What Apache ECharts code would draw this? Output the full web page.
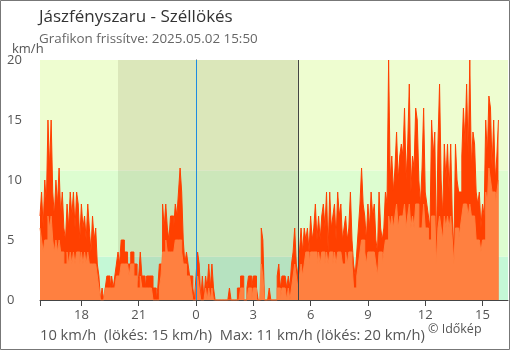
<!DOCTYPE html>
<html><head><meta charset="utf-8">
<script src="https://cdn.jsdelivr.net/npm/echarts@6/dist/echarts.min.js"></script>
<style>html,body{margin:0;padding:0;background:#fff}#c{width:510px;height:350px}</style>
</head><body><div id="c"></div>
<script>
const titleText = 'Jászfényszaru - Széllökés';
const subtitleText = 'Grafikon frissítve: 2025.05.02 15:50';
const footerText = '10 km/h  (lökés: 15 km/h)  Max: 11 km/h (lökés: 20 km/h)';
const creditText = '© Időkép';
const yAxisName = 'km/h';

// time in hours relative to midnight of 2025.05.02
const startHour = -(8 + 10 / 60);   // 15:50 on the previous day
const stepHours = 5 / 60;           // 5-minute readings
const axisMaxHour = 16 + 20 / 60;
const xTickHours = [-6, -3, 0, 3, 6, 9, 12, 15];
const bandLimits = [0, 3.6, 10.8, 20];
const sunsetHour = -(4 + 5 / 60);
const sunriseHour = 5 + 20 / 60;

// gust (lökés) km/h, one value per 5 minutes, 15:50 -> 15:50
const gust = [
  7, 9, 6, 10, 8, 15, 11, 15, 9, 7, 10, 8,
  11, 7, 9, 6, 5, 8, 6, 9, 7, 9, 6, 9,
  8, 5, 8, 6, 7, 5, 8, 6, 4, 7, 5, 6,
  3, 2, 0, 1, 0, 1, 2, 2, 1, 2, 1, 2,
  3, 4, 3, 5, 5, 4, 4, 3, 3, 4, 4, 3,
  3, 1, 2, 4, 2, 2, 1, 2, 2, 2, 2, 1,
  1, 0, 1, 3, 3, 8, 6, 8, 6, 5, 7, 7,
  6, 8, 7, 9, 11, 9, 5, 3, 4, 3, 2, 2,
  1, 0, 2, 4, 3, 0, 2, 0, 2, 1, 3, 1,
  3, 1, 0, 0, 0, 0, 0, 0, 0, 0, 0, 1,
  0, 0, 0, 0, 1, 1, 2, 2, 0, 0, 1, 2,
  2, 1, 2, 2, 1, 0, 0, 6, 5, 0, 0, 0,
  1, 0, 0, 0, 0, 2, 3, 1, 2, 2, 2, 1,
  2, 1, 3, 4, 6, 3, 2, 4, 6, 4, 6, 5,
  6, 4, 7, 5, 6, 8, 5, 7, 5, 7, 8, 6,
  9, 4, 9, 6, 7, 8, 5, 9, 7, 8, 5, 6,
  7, 5, 6, 9, 5, 3, 2, 4, 6, 8, 11, 8,
  7, 5, 8, 6, 9, 7, 8, 5, 4, 9, 6, 5,
  6, 9, 8, 20, 10, 12, 9, 11, 14, 10, 12, 13,
  12, 16, 10, 13, 18, 9, 12, 11, 16, 15, 10, 8,
  11, 16, 9, 8, 7, 6, 15, 12, 14, 4, 13, 18,
  10, 7, 13, 10, 13, 9, 13, 7, 4, 13, 10, 9,
  9, 12, 16, 13, 18, 12, 20, 11, 14, 13, 9, 8,
  9, 6, 8, 7, 15, 12, 17, 16, 11, 15, 10, 12, 15
];
// average wind km/h
const avg = [
  6, 5, 4, 5, 5, 7, 6, 7, 5, 4, 5, 4,
  5, 4, 4, 3, 3, 4, 3, 4, 3, 4, 3, 4,
  4, 3, 4, 3, 4, 3, 4, 3, 3, 3, 3, 3,
  2, 1, 0, 0, 0, 1, 1, 1, 1, 1, 1, 1,
  2, 2, 2, 3, 3, 3, 3, 3, 2, 3, 3, 2,
  2, 1, 1, 2, 1, 1, 1, 1, 1, 1, 1, 0,
  0, 0, 0, 1, 2, 4, 4, 5, 4, 4, 4, 4,
  4, 5, 5, 5, 5, 4, 3, 3, 2, 2, 2, 1,
  0, 0, 1, 2, 1, 0, 0, 0, 1, 0, 1, 0,
  1, 0, 0, 0, 0, 0, 0, 0, 0, 0, 0, 0,
  0, 0, 0, 0, 0, 0, 1, 1, 0, 0, 0, 1,
  1, 0, 1, 1, 0, 0, 0, 3, 2, 0, 0, 0,
  0, 0, 0, 0, 0, 1, 1, 0, 1, 1, 1, 0,
  1, 0, 1, 2, 3, 2, 1, 2, 3, 2, 3, 4,
  4, 3, 4, 4, 4, 4, 3, 4, 3, 4, 4, 3,
  4, 3, 4, 4, 3, 4, 3, 4, 4, 4, 3, 3,
  4, 3, 4, 4, 3, 1, 1, 2, 3, 4, 5, 5,
  4, 3, 4, 4, 4, 4, 4, 3, 2, 4, 4, 3,
  4, 5, 5, 7, 6, 7, 6, 7, 8, 6, 7, 7,
  7, 8, 6, 7, 8, 6, 7, 6, 8, 8, 6, 6,
  6, 8, 6, 6, 5, 5, 7, 7, 7, 3, 6, 7,
  6, 5, 7, 6, 7, 6, 7, 5, 3, 6, 6, 5,
  6, 7, 8, 8, 8, 7, 8, 7, 7, 7, 5, 5,
  5, 4, 5, 5, 9, 8, 11, 10, 9, 9, 8, 9, 10
];

const gustColor = '#ff4000';
const avgColor = '#ff8040';
const bandColors = ['#c4f8d6', '#ddfdd0', '#eefdd0'];
const fontFamily = "'Open Sans', 'Noto Sans', sans-serif";

const toPairs = arr => arr.map((v, i) => [startHour + i * stepHours, v]);

const chart = echarts.init(document.getElementById('c'), null, {renderer: 'canvas'});
chart.setOption({
  animation: false,
  textStyle: {fontFamily},
  title: [
    {text: titleText, left: 39, top: 9, padding: 0, textStyle: {fontSize: 17, fontWeight: 'normal', color: '#333', fontFamily}},
    {text: subtitleText, left: 39, top: 33, padding: 0, textStyle: {fontSize: 13.4, fontWeight: 'normal', color: '#666', fontFamily}},
    {text: yAxisName, left: 12, top: 43, padding: 0, textStyle: {fontSize: 13, fontWeight: 'normal', color: '#555', fontFamily}},
    {text: footerText, left: 40, top: 328, padding: 0, textStyle: {fontSize: 14.7, fontWeight: 'normal', color: '#555', fontFamily}},
    {text: creditText, left: 428, top: 323, padding: 0, textStyle: {fontSize: 12.5, fontWeight: 'normal', color: '#555', fontFamily}}
  ],
  graphic: [{
    type: 'rect', silent: true, z: 100,
    shape: {x: 0.5, y: 0.5, width: 509, height: 349},
    style: {fill: 'none', stroke: '#777', lineWidth: 1}
  }],
  grid: {left: 40, right: 2, top: 60, bottom: 50},
  xAxis: {
    type: 'value', min: startHour, max: axisMaxHour,
    splitLine: {show: false},
    axisLine: {lineStyle: {color: '#444'}},
    axisTick: {customValues: [startHour].concat(xTickHours), length: 6, lineStyle: {color: '#444'}},
    axisLabel: {
      customValues: xTickHours, color: '#555', fontSize: 13, margin: 9,
      formatter: v => String(((Math.round(v) % 24) + 24) % 24)
    }
  },
  yAxis: {
    type: 'value', min: 0, max: 20, interval: 5,
    axisLine: {show: true, lineStyle: {color: '#444'}},
    axisTick: {show: true, length: 7, lineStyle: {color: '#444'}},
    splitLine: {show: false},
    axisLabel: {align: 'left', margin: 33, color: '#555', fontSize: 13}
  },
  series: [
    {
      type: 'line', z: 1, silent: true, symbol: 'none',
      data: [[startHour, 0]], lineStyle: {width: 0},
      markArea: {
        silent: true,
        data: [
          [{yAxis: bandLimits[0], itemStyle: {color: bandColors[0]}}, {yAxis: bandLimits[1]}],
          [{yAxis: bandLimits[1], itemStyle: {color: bandColors[1]}}, {yAxis: bandLimits[2]}],
          [{yAxis: bandLimits[2], itemStyle: {color: bandColors[2]}}, {yAxis: bandLimits[3]}],
          [{xAxis: sunsetHour, itemStyle: {color: 'rgba(60,40,0,0.10)'}}, {xAxis: sunriseHour}]
        ]
      }
    },
    {
      name: 'lökés', type: 'line', z: 3, step: 'end', symbol: 'none', showSymbol: false,
      data: toPairs(gust),
      lineStyle: {width: 1, color: gustColor},
      areaStyle: {color: gustColor, opacity: 1},
      markLine: {
        silent: true, symbol: 'none', label: {show: false},
        data: [
          {xAxis: 0, lineStyle: {color: '#1e8be0', width: 1, type: 'solid'}},
          {xAxis: sunriseHour, lineStyle: {color: '#444', width: 1, type: 'solid'}}
        ]
      }
    },
    {
      name: 'szél', type: 'line', z: 4, step: 'end', symbol: 'none', showSymbol: false,
      data: toPairs(avg),
      lineStyle: {width: 1, color: avgColor},
      areaStyle: {color: avgColor, opacity: 1}
    }
  ]
});
</script>
</body></html>
